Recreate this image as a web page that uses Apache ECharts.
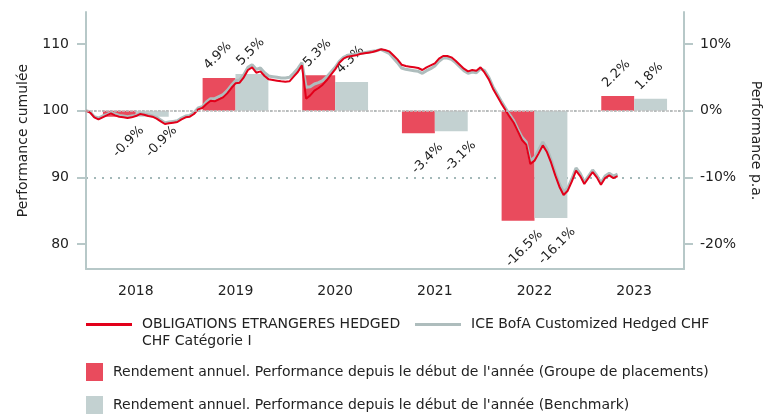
<!DOCTYPE html>
<html>
<head>
<meta charset="utf-8">
<script src="https://cdn.jsdelivr.net/npm/echarts@6/dist/echarts.min.js"></script>
<style>
  html, body { margin: 0; padding: 0; background: #fff; }
  #chart { width: 776px; height: 414px; }
</style>
</head>
<body>
<div id="chart"></div>
<script>
// --- data ---
var years = ['2018', '2019', '2020', '2021', '2022', '2023'];
var fundYearly = [-0.9, 4.9, 5.3, -3.4, -16.5, 2.2];
var benchYearly = [-0.9, 5.5, 4.3, -3.1, -16.1, 1.8];

// cumulative performance, two points per month from Jan 2018
var lineStart = 2018;
var pointsPerYear = 24;
var fundPerf = [
  100.0, 99.7, 99.0, 98.7, 99.0, 99.3, 99.6, 99.3, 99.1, 99.0, 98.9, 99.0,
  99.2, 99.5, 99.4, 99.2, 99.1, 98.8, 98.4, 98.0, 98.1, 98.2, 98.3, 98.7,
  99.0, 99.1, 99.5, 100.2, 100.4, 101.0, 101.5, 101.4, 101.7, 102.0, 102.6, 103.4,
  104.1, 104.2, 105.0, 106.1, 106.5, 105.7, 105.9, 105.2, 104.7, 104.6, 104.5, 104.4,
  104.35, 104.4, 105.1, 105.8, 106.8, 101.8, 102.3, 103.0, 103.4, 103.9, 104.6, 105.4,
  106.2, 107.2, 107.8, 108.1, 108.2, 108.3, 108.5, 108.6, 108.7, 108.8, 109.0, 109.2,
  109.1, 108.9, 108.3, 107.7, 106.9, 106.7, 106.6, 106.5, 106.4, 106.1, 106.5, 106.8,
  107.1, 107.8, 108.2, 108.2, 108.0, 107.5, 106.9, 106.3, 105.9, 106.1, 106.0, 106.5,
  105.7, 104.7, 103.3, 102.2, 101.1, 100.1, 99.1, 98.2, 96.9, 95.6, 94.9, 92.0,
  92.5, 93.6, 94.8, 93.8, 92.2, 90.3, 88.6, 87.35, 88.0, 89.4, 91.0, 90.2,
  89.0, 89.9, 90.8, 90.0, 88.9, 89.9, 90.3, 89.9, 90.2
];
var benchPerf = [
  100.0, 99.8, 99.1, 98.9, 99.2, 99.4, 99.7, 99.5, 99.3, 99.2, 99.1, 99.2,
  99.3, 99.6, 99.5, 99.4, 99.2, 99.0, 98.6, 98.2, 98.3, 98.4, 98.5, 98.9,
  99.2, 99.3, 99.7, 100.4, 100.6, 101.3, 101.8, 101.8, 102.1, 102.4, 103.0, 103.8,
  104.5, 104.6, 105.4, 106.5, 106.9, 106.2, 106.4, 105.7, 105.2, 105.1, 105.0, 104.9,
  104.9, 105.0, 105.6, 106.3, 107.2, 103.5, 103.6, 104.0, 104.2, 104.5, 105.1, 105.8,
  106.5, 107.4, 108.0, 108.3, 108.4, 108.5, 108.6, 108.7, 108.8, 108.9, 109.0, 109.2,
  108.9, 108.6, 107.9, 107.2, 106.4, 106.2, 106.1, 106.0, 105.9, 105.6, 106.0, 106.3,
  106.7, 107.4, 107.9, 107.9, 107.7, 107.2, 106.6, 106.0, 105.6, 105.8, 105.7, 106.3,
  106.0, 105.0, 103.6, 102.5, 101.4, 100.4, 99.4, 98.5, 97.2, 96.0, 95.3, 92.5,
  93.0, 94.1, 95.3, 94.3, 92.6, 90.7, 89.0, 87.8, 88.4, 89.8, 91.4, 90.6,
  89.3, 90.2, 91.1, 90.3, 89.2, 90.2, 90.6, 90.2, 90.5
];
var leftTicks = [80, 90, 100, 110];
var rightTicks = [-20, -10, 0, 10];

var fundName = 'OBLIGATIONS ETRANGERES HEDGED\nCHF Catégorie I';
var benchName = 'ICE BofA Customized Hedged CHF';
var fundBarName = "Rendement annuel. Performance depuis le début de l'année (Groupe de placements)";
var benchBarName = "Rendement annuel. Performance depuis le début de l'année (Benchmark)";

// --- style ---
var font = "'DejaVu Sans', Verdana, sans-serif";
var ink = '#222';
var axisColor = '#b7c8c8';
var gridColor = '#a3b8b8';
var redLine = '#e2001a';
var greyLine = '#aebdbd';
var redBar = '#e94b5d';
var greyBar = '#c3d1d1';
var lineIcon = 'path://M0,0h46v3h-46z';

var labelBase = { show: true, formatter: '{c}%', rotate: 45, fontSize: 13, color: ink, fontFamily: font };
var posLabel = Object.assign({}, labelBase, { position: [8, -6], align: 'left', verticalAlign: 'bottom' });
var negLabel = Object.assign({}, labelBase, { position: ['100%', '100%'], align: 'right', verticalAlign: 'top', offset: [-4, 6] });

function barItems(values) {
  return values.map(function(v) {
    return { value: v, label: v >= 0 ? posLabel : negLabel };
  });
}
function linePoints(values) {
  return values.map(function(v, i) { return [lineStart + i / pointsPerYear, v]; });
}

var chart = echarts.init(document.getElementById('chart'), null, { renderer: 'canvas' });
chart.setOption({
  animation: false,
  textStyle: { fontFamily: font },
  grid: { left: 86, right: 92, top: 12, bottom: 145 },
  legend: [
    {
      // empty first line keeps the icon level with the first text line
      data: [{ name: fundName, icon: lineIcon }],
      formatter: function(name) { return '{gap| }\n' + name; },
      left: 86, top: 299, padding: 0,
      itemWidth: 46, itemHeight: 14, selectedMode: false,
      textStyle: {
        fontSize: 14, color: ink, lineHeight: 17, padding: [0, 0, 0, 5], fontFamily: font,
        rich: { gap: { fontSize: 14, lineHeight: 17 } }
      }
    },
    {
      data: [{ name: benchName, icon: lineIcon }],
      left: 415, top: 316, padding: 0,
      itemWidth: 46, itemHeight: 14, selectedMode: false,
      textStyle: { fontSize: 14, color: ink, lineHeight: 17, padding: [0, 0, 0, 5], fontFamily: font }
    },
    {
      data: [{ name: fundBarName, icon: 'rect' }, { name: benchBarName, icon: 'rect' }],
      orient: 'vertical', left: 86, top: 363, padding: 0,
      itemWidth: 17, itemHeight: 18, itemGap: 15, selectedMode: false,
      textStyle: { fontSize: 14, color: ink, padding: [0, 0, 0, 5], fontFamily: font }
    }
  ],
  xAxis: [
    {
      type: 'category',
      data: years,
      boundaryGap: true,
      axisLine: { onZero: false, lineStyle: { color: axisColor, width: 2 } },
      axisTick: { length: 10, lineStyle: { color: axisColor, width: 2 } },
      axisLabel: { color: ink, fontSize: 14, margin: 15, fontFamily: font },
      splitLine: { show: false }
    },
    { type: 'value', min: 2018, max: 2024, show: false, axisLine: { onZero: false } }
  ],
  yAxis: [
    {
      type: 'value',
      position: 'left',
      min: 76.26,
      max: 114.8,
      splitNumber: 4,
      name: 'Performance cumulée',
      nameLocation: 'middle',
      nameRotate: 90,
      nameGap: 56,
      nameTextStyle: { color: ink, fontSize: 14, fontFamily: font },
      axisLine: { show: true, onZero: false, lineStyle: { color: axisColor, width: 2 } },
      axisTick: { show: true, length: 9, customValues: leftTicks, lineStyle: { color: axisColor, width: 2 } },
      axisLabel: { customValues: leftTicks, color: ink, fontSize: 14, margin: 17, fontFamily: font },
      splitLine: {
        show: true, showMinLine: false, showMaxLine: false,
        lineStyle: { type: [2, 6], color: gridColor, width: 2 }
      }
    },
    {
      type: 'value',
      position: 'right',
      min: -23.74,
      max: 14.8,
      splitNumber: 4,
      name: 'Performance p.a.',
      nameLocation: 'middle',
      nameRotate: -90,
      nameGap: 65,
      nameTextStyle: { color: ink, fontSize: 14, fontFamily: font },
      axisLine: { show: true, onZero: false, lineStyle: { color: axisColor, width: 2 } },
      axisTick: { show: true, length: 9, customValues: rightTicks, lineStyle: { color: axisColor, width: 2 } },
      axisLabel: { customValues: rightTicks, formatter: '{value}%', color: ink, fontSize: 14, margin: 16, fontFamily: font },
      splitLine: { show: false }
    }
  ],
  series: [
    {
      name: fundBarName,
      type: 'bar',
      xAxisIndex: 0,
      yAxisIndex: 1,
      barWidth: '33%',
      barGap: '0%',
      itemStyle: { color: redBar },
      data: barItems(fundYearly),
      markLine: {
        silent: true,
        symbol: 'none',
        label: { show: false },
        lineStyle: { color: '#bdbdbd', type: [3, 1], width: 1.5 },
        data: [{ yAxis: 0 }]
      }
    },
    {
      name: benchBarName,
      type: 'bar',
      xAxisIndex: 0,
      yAxisIndex: 1,
      barWidth: '33%',
      barGap: '0%',
      itemStyle: { color: greyBar },
      data: barItems(benchYearly)
    },
    {
      name: benchName,
      type: 'line',
      xAxisIndex: 1,
      yAxisIndex: 0,
      symbol: 'none',
      showSymbol: false,
      z: 3,
      lineStyle: { color: greyLine, width: 3 },
      itemStyle: { color: greyLine },
      data: linePoints(benchPerf)
    },
    {
      name: fundName,
      type: 'line',
      xAxisIndex: 1,
      yAxisIndex: 0,
      symbol: 'none',
      showSymbol: false,
      z: 4,
      lineStyle: { color: redLine, width: 2 },
      itemStyle: { color: redLine },
      data: linePoints(fundPerf)
    }
  ]
});
window.addEventListener('resize', function() { chart.resize(); });
</script>
</body>
</html>
